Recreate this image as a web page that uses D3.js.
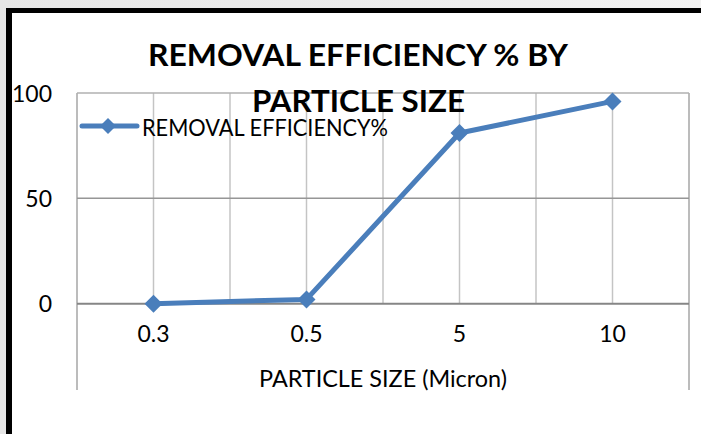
<!DOCTYPE html>
<html>
<head>
<meta charset="utf-8">
<script src="https://cdn.jsdelivr.net/npm/d3@7"></script>
<style>
  html, body { margin: 0; padding: 0; background: #ededed; }
  #svgDiv { width: 701px; height: 434px; }
  text { font-family: Lato, "Open Sans", sans-serif; fill: #000; }
</style>
</head>
<body>
<div id="svgDiv"></div>
<script>
// data
var categories = ["0.3", "0.5", "5", "10"];
var efficiency = [0, 2, 81, 96];
var yTicks = [0, 50, 100];
var titleLines = ["REMOVAL EFFICIENCY % BY", "PARTICLE SIZE"];
var seriesName = "REMOVAL EFFICIENCY%";
var xTitle = "PARTICLE SIZE (Micron)";

var svg, xScale, yScale;
var plot = { left: 77, right: 689, top: 93, bottom: 390 };
var lineColor = "#4a7ebb";

document.addEventListener('DOMContentLoaded', function(){
    svg = d3.select("#svgDiv")
        .append("svg")
        .attr("width", 701)
        .attr("height", 434);

    drawFrame();
    setScales();
    drawGrid();
    drawSeries();
    drawTexts();
});

// gray surroundings, white chart, thick black edge
function drawFrame(){
    var grad = svg.append("defs").append("linearGradient")
        .attr("id", "bg").attr("x1", 0).attr("x2", 1).attr("y1", 0).attr("y2", 0);
    grad.append("stop").attr("offset", 0).attr("stop-color", "#e6e6e6");
    grad.append("stop").attr("offset", 1).attr("stop-color", "#f2f2f2");
    svg.append("rect").attr("width", 701).attr("height", 434).attr("fill", "url(#bg)");
    svg.append("rect").attr("x", 6).attr("y", 8).attr("width", 695).attr("height", 426).attr("fill", "#fff");
    svg.append("rect").attr("x", 6).attr("y", 8).attr("width", 695).attr("height", 5).attr("fill", "#000");
    svg.append("rect").attr("x", 6).attr("y", 8).attr("width", 6).attr("height", 426).attr("fill", "#000");
}

function setScales(){
    xScale = d3.scaleBand()
        .domain(categories)
        .range([plot.left, plot.right])
        .padding(0);

    yScale = d3.scaleLinear()
        .domain([-41, 100])
        .range([plot.bottom, plot.top]);
}

function drawGrid(){
    var bw = xScale.bandwidth();
    var g = svg.append("g");

    // vertical grid at band edges and centres, above zero only
    var xs = [];
    categories.forEach(function(c, i){
        if(i > 0) xs.push(xScale(c));
        xs.push(xScale(c) + bw / 2);
    });
    g.selectAll("line.vgrid")
        .data(xs)
        .enter().append("line")
        .attr("class", "vgrid")
        .attr("x1", d => d).attr("x2", d => d)
        .attr("y1", yScale(100)).attr("y2", yScale(0))
        .attr("stroke", "#c4c4c4").attr("stroke-width", 1.5);

    // plot edges
    g.append("line")
        .attr("x1", plot.left).attr("x2", plot.left)
        .attr("y1", plot.top).attr("y2", plot.bottom)
        .attr("stroke", "#a6a6a6").attr("stroke-width", 1.5);
    g.append("line")
        .attr("x1", plot.right).attr("x2", plot.right)
        .attr("y1", plot.top).attr("y2", plot.bottom)
        .attr("stroke", "#a6a6a6").attr("stroke-width", 1.5);

    g.selectAll("line.hgrid")
        .data(yTicks)
        .enter().append("line")
        .attr("class", "hgrid")
        .attr("x1", plot.left).attr("x2", plot.right)
        .attr("y1", d => yScale(d)).attr("y2", d => yScale(d))
        .attr("stroke", d => d === 0 ? "#868686" : (d === 100 ? "#b0b0b0" : "#969696"))
        .attr("stroke-width", d => d === 0 ? 2 : 1.5);

    // tick labels
    g.selectAll("text.ytick")
        .data(yTicks)
        .enter().append("text")
        .attr("class", "ytick")
        .attr("x", 52)
        .attr("y", d => yScale(d) + 3)
        .attr("text-anchor", "end")
        .attr("dominant-baseline", "middle")
        .style("font-size", "23px")
        .text(d => d);

    g.selectAll("text.xtick")
        .data(categories)
        .enter().append("text")
        .attr("class", "xtick")
        .attr("x", d => xScale(d) + bw / 2)
        .attr("y", 342)
        .attr("text-anchor", "middle")
        .style("font-size", "23px")
        .text(d => d);
}

function diamond(r){
    return "M0," + (-r) + "L" + r + ",0L0," + r + "L" + (-r) + ",0Z";
}

function drawSeries(){
    var bw = xScale.bandwidth();
    var pts = categories.map(function(c, i){ return { c: c, v: efficiency[i] }; });

    var line = d3.line()
        .x(d => xScale(d.c) + bw / 2)
        .y(d => yScale(d.v));

    svg.append("path")
        .datum(pts)
        .attr("d", line)
        .attr("fill", "none")
        .attr("stroke", lineColor)
        .attr("stroke-width", 5)
        .attr("stroke-linejoin", "round");

    svg.selectAll("path.marker")
        .data(pts)
        .enter().append("path")
        .attr("class", "marker")
        .attr("transform", d => "translate(" + (xScale(d.c) + bw / 2) + "," + yScale(d.v) + ")")
        .attr("d", diamond(9))
        .attr("fill", lineColor);

    // legend
    var lg = svg.append("g").attr("transform", "translate(82,126)");
    lg.append("line")
        .attr("x1", 0).attr("x2", 55)
        .attr("stroke", lineColor).attr("stroke-width", 5)
        .attr("stroke-linecap", "round");
    lg.append("path")
        .attr("transform", "translate(26,0)")
        .attr("d", diamond(8))
        .attr("fill", lineColor);
    lg.append("text")
        .attr("x", 60).attr("y", 10)
        .attr("textLength", 246)
        .attr("lengthAdjust", "spacingAndGlyphs")
        .style("font-size", "23px")
        .text(seriesName);
}

function drawTexts(){
    var cx = (plot.left + plot.right) / 2;
    var lens = [420, 213];
    var ys = [66, 112];
    svg.selectAll("text.title")
        .data(titleLines)
        .enter().append("text")
        .attr("class", "title")
        .attr("x", (d, i) => i === 0 ? 358 : 358.5)
        .attr("y", (d, i) => ys[i])
        .attr("text-anchor", "middle")
        .attr("textLength", (d, i) => lens[i])
        .attr("lengthAdjust", "spacingAndGlyphs")
        .style("font-size", "30px")
        .style("font-weight", "bold")
        .text(d => d);

    svg.append("text")
        .attr("x", cx)
        .attr("y", 387)
        .attr("text-anchor", "middle")
        .attr("textLength", 248)
        .attr("lengthAdjust", "spacingAndGlyphs")
        .style("font-size", "23px")
        .text(xTitle);
}
</script>
</body>
</html>
